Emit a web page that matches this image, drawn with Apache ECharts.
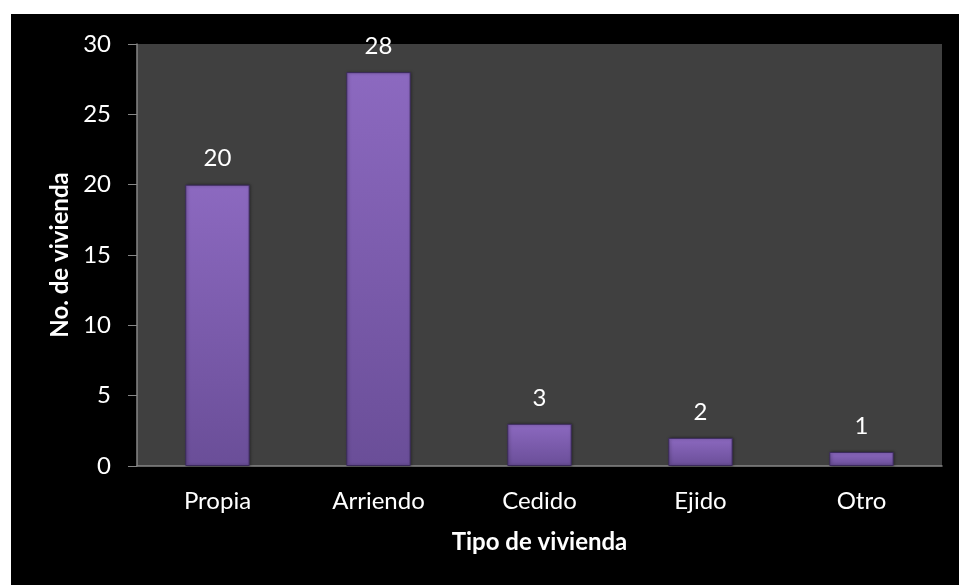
<!DOCTYPE html>
<html>
<head>
<meta charset="utf-8">
<script src="https://cdn.jsdelivr.net/npm/echarts@6/dist/echarts.min.js"></script>
<style>
  html, body { margin: 0; padding: 0; background: #fff; }
  #main { position: absolute; left: 11px; top: 14px; width: 948px; height: 571px; background: #000; }
</style>
</head>
<body>
<div id="main"></div>
<script>
    // datos de la gráfica
    var categorias = ['Propia', 'Arriendo', 'Cedido', 'Ejido', 'Otro'];
    var viviendas = [20, 28, 3, 2, 1];
    var yMax = 30;
    var yPaso = 5;

    var myChart = echarts.init(document.getElementById('main'));
    var option = {
        backgroundColor: '#000',
        textStyle: { fontFamily: 'Lato' },
        grid: {
            left: 126, top: 30, right: 17, bottom: 119,
            show: true, backgroundColor: '#404040', borderWidth: 0
        },
        xAxis: {
            type: 'category',
            data: categorias,
            name: 'Tipo de vivienda',
            nameLocation: 'middle',
            nameGap: 64,
            nameTextStyle: { color: '#fff', fontSize: 24, fontWeight: 'bold', fontFamily: 'Lato' },
            axisLine: { lineStyle: { color: '#868686', width: 1.5 } },
            axisTick: { show: false },
            axisLabel: { color: '#fff', fontSize: 24, margin: 23 }
        },
        yAxis: {
            type: 'value',
            min: 0, max: yMax, interval: yPaso,
            name: 'No. de vivienda',
            nameLocation: 'middle',
            nameGap: 62,
            nameTextStyle: { color: '#fff', fontSize: 24, fontWeight: 'bold', fontFamily: 'Lato' },
            axisLine: { show: true, lineStyle: { color: '#868686', width: 1.5 } },
            axisTick: { show: true, length: 9, lineStyle: { color: '#868686' } },
            axisLabel: { color: '#fff', fontSize: 24, margin: 26 },
            splitLine: { show: false }
        },
        series: [{
            type: 'bar',
            data: viviendas,
            barWidth: '40%',
            itemStyle: {
                color: new echarts.graphic.LinearGradient(0, 0, 0, 1, [
                    { offset: 0, color: '#8c69c0' },
                    { offset: 1, color: '#6a4e98' }
                ]),
                borderColor: '#3b2a5c',
                borderWidth: 1,
                shadowColor: 'rgba(0,0,0,0.4)',
                shadowBlur: 3,
                shadowOffsetX: 1
            },
            label: {
                show: true,
                position: 'top',
                distance: 14,
                color: '#fff',
                fontSize: 24,
                fontFamily: 'Lato'
            }
        }]
    };
    myChart.setOption(option);
</script>
</body>
</html>
